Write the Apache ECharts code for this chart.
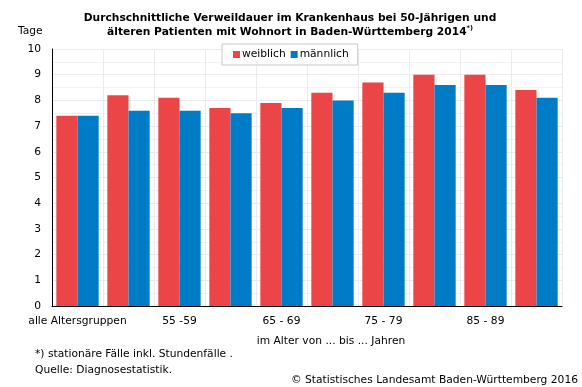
<!DOCTYPE html>
<html><head><meta charset="utf-8">
<script src="https://cdn.jsdelivr.net/npm/echarts@6/dist/echarts.min.js"></script>
<style>html,body{margin:0;padding:0;background:#fff}#c{width:582px;height:387px}</style>
</head><body><div id="c"></div>
<script>
const categories = ['alle Altersgruppen','50 - 54','55 -59','60 - 64','65 - 69','70 - 74','75 - 79','80 - 84','85 - 89','90 und mehr'];
const weiblich = [7.4, 8.2, 8.1, 7.7, 7.9, 8.3, 8.7, 9.0, 9.0, 8.4];
const maennlich = [7.4, 7.6, 7.6, 7.5, 7.7, 8.0, 8.3, 8.6, 8.6, 8.1];
const yTicks = [0,1,2,3,4,5,6,7,8,9,10];

const FONT = 'DejaVu Sans';
const FS = 10.7;
const chart = echarts.init(document.getElementById('c'), null, {renderer:'canvas'});
chart.setOption({
  animation:false,
  textStyle:{fontFamily:FONT},
  title:[
    {text:'Durchschnittliche Verweildauer im Krankenhaus bei 50-Jährigen und\nälteren Patienten mit Wohnort in Baden-Württemberg 2014{s|*)}',
     left:290, top:11, textAlign:'center', padding:0,
     textStyle:{fontFamily:FONT,fontSize:10.7,fontWeight:'bold',color:'#000',lineHeight:14,
       rich:{s:{fontSize:6.5,fontWeight:'bold',verticalAlign:'top',lineHeight:14,padding:[0,0,5,0]}}}},
    {text:'Tage', left:18, top:26, padding:0, textStyle:{fontFamily:FONT,fontSize:FS,fontWeight:'normal',color:'#000'}},
    {text:'im Alter von ... bis ... Jahren', left:331, top:336, padding:0, textAlign:'center', textStyle:{fontFamily:FONT,fontSize:FS,fontWeight:'normal',color:'#000'}},
    {text:'*) stationäre Fälle inkl. Stundenfälle .\nQuelle: Diagnosestatistik.', left:35, top:346, padding:0, textStyle:{fontFamily:FONT,fontSize:FS,fontWeight:'normal',color:'#000',lineHeight:16}},
    {text:'© Statistisches Landesamt Baden-Württemberg 2016', right:4, top:375, padding:0, textStyle:{fontFamily:FONT,fontSize:FS,fontWeight:'normal',color:'#000'}}
  ],
  legend:{
    data:['weiblich','männlich'], left:222, top:44,
    itemWidth:7, itemHeight:7, itemGap:5, icon:'rect',
    borderColor:'#c8c8c8', borderWidth:1, padding:[5,9,5,11], backgroundColor:'#fff',
    textStyle:{fontFamily:FONT,fontSize:FS,color:'#000',padding:[0,0,0,-3]}
  },
  grid:{left:52, right:20, top:49, bottom:81, containLabel:false},
  xAxis:{
    type:'category', data:categories,
    axisLine:{lineStyle:{color:'#000',width:1}},
    axisTick:{show:false},
    axisLabel:{interval:1, color:'#000', fontFamily:FONT, fontSize:FS, margin:10},
    splitLine:{show:true, interval:0, lineStyle:{color:'#ebebeb'}}
  },
  yAxis:{
    type:'value', min:0, max:10, interval:1,
    axisLine:{show:true, lineStyle:{color:'#000',width:1}},
    axisTick:{show:false},
    axisLabel:{color:'#000', fontFamily:FONT, fontSize:FS, margin:11,
      formatter:v=>yTicks.includes(v)?String(v):''},
    splitLine:{lineStyle:{color:'#ebebeb'}},
    minorTick:{show:false, splitNumber:2},
    minorSplitLine:{show:true, lineStyle:{color:'#f2f2f2'}}
  },
  series:[
    {name:'weiblich', type:'bar', data:weiblich, itemStyle:{color:'#EC4548'}, barGap:'0%', barCategoryGap:'17%'},
    {name:'männlich', type:'bar', data:maennlich, itemStyle:{color:'#007CC7'}, barGap:'0%', barCategoryGap:'17%'}
  ]
});
</script></body></html>
